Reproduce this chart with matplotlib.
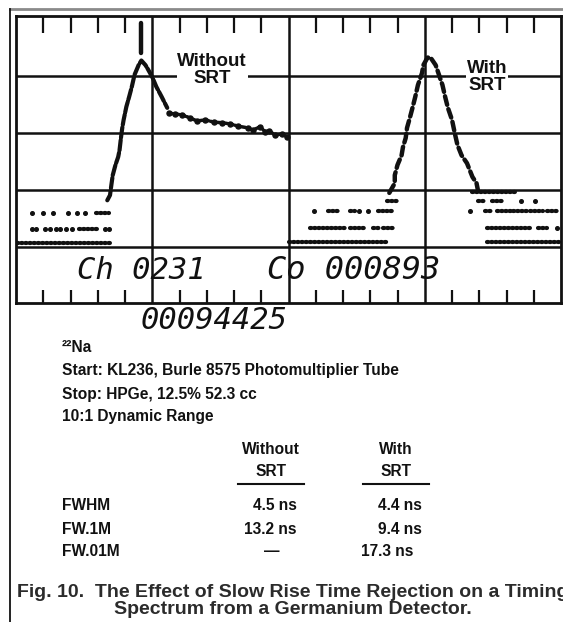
import matplotlib
matplotlib.use('Agg')
import matplotlib.pyplot as plt
from matplotlib.lines import Line2D

W, H = 563, 622

# screen coordinates: x in divisions (0-4), y in divisions above the baseline
# left trace: without slow rise time rejection
left_x = [0.67, 0.69, 0.70, 0.71, 0.73, 0.75, 0.76, 0.77, 0.78, 0.79, 0.81, 0.83,
          0.85, 0.87, 0.90, 0.92, 0.95, 0.97, 1.00, 1.03, 1.07, 1.11]
left_y = [0.82, 0.91, 1.09, 1.26, 1.44, 1.58, 1.70, 1.91, 2.09, 2.23, 2.46, 2.63,
          2.81, 3.02, 3.19, 3.27, 3.19, 3.11, 2.98, 2.81, 2.63, 2.44]
tail_x = [1.12, 1.17, 1.22, 1.28, 1.33, 1.39, 1.45, 1.51, 1.57, 1.63, 1.70, 1.74,
          1.79, 1.83, 1.86, 1.90, 1.95, 1.99]
tail_y = [2.35, 2.33, 2.32, 2.26, 2.21, 2.23, 2.19, 2.18, 2.16, 2.12, 2.09, 2.05,
          2.11, 2.02, 2.04, 1.96, 1.98, 1.93]

# right trace: with slow rise time rejection
right_x = [2.74, 2.78, 2.78, 2.80, 2.83, 2.84, 2.86, 2.87, 2.89, 2.91, 2.93, 2.95,
           2.98, 2.99, 3.02, 3.04, 3.08, 3.10, 3.13, 3.15, 3.17, 3.20, 3.22, 3.24,
           3.27, 3.31, 3.33, 3.35, 3.38, 3.39]
right_y = [0.95, 1.12, 1.26, 1.44, 1.61, 1.75, 1.91, 2.09, 2.26, 2.44, 2.63, 2.84,
           3.05, 3.19, 3.32, 3.33, 3.19, 3.05, 2.84, 2.63, 2.44, 2.23, 2.00, 1.79,
           1.61, 1.47, 1.35, 1.23, 1.12, 1.00]

# low count levels: runs of dense dots (start, end, level) and single dots (x, level)
runs = [(0.01, 0.70, 0.07), (0.46, 0.61, 0.32), (0.59, 0.68, 0.60),
        (2.00, 2.73, 0.09), (3.46, 3.99, 0.09),
        (2.16, 2.43, 0.33), (2.45, 2.56, 0.33), (2.62, 2.67, 0.33), (2.69, 2.77, 0.33),
        (3.46, 3.79, 0.33), (3.83, 3.90, 0.33),
        (2.29, 2.38, 0.63), (2.45, 2.49, 0.63), (2.66, 2.76, 0.63),
        (3.44, 3.50, 0.63), (3.53, 3.63, 0.63), (3.65, 3.75, 0.63), (3.77, 3.87, 0.63),
        (3.90, 3.98, 0.63),
        (2.72, 2.80, 0.81), (3.39, 3.44, 0.81), (3.49, 3.57, 0.81),
        (3.35, 3.66, 0.96)]
dots_x = [0.12, 0.15, 0.21, 0.25, 0.29, 0.32, 0.37, 0.41, 0.65, 0.68,
          0.12, 0.20, 0.27, 0.38, 0.45, 0.51,
          3.97, 2.19, 2.52, 2.58, 3.33, 3.71, 3.81]
dots_y = [0.32] * 10 + [0.60] * 6 + [0.33, 0.63, 0.63, 0.63, 0.63, 0.81, 0.81]

cursor_x = 0.92
cursor_y = (3.40, 3.93)

readouts = ['Ch 0231', 'Co 000893', '00094425']
notes = ['²²Na', 'Start: KL236, Burle 8575 Photomultiplier Tube',
         'Stop: HPGe, 12.5% 52.3 cc', '10:1 Dynamic Range']
row_names = ['FWHM', 'FW.1M', 'FW.01M']
without_srt = ['4.5 ns', '13.2 ns', '—']
with_srt = ['4.4 ns', '9.4 ns', '17.3 ns']
caption = ('Fig. 10.  The Effect of Slow Rise Time Rejection on a Timing\n'
           'Spectrum from a Germanium Detector.')


def fx(x):
    return x / W


def fy(y):
    return 1 - y / H


fig = plt.figure(figsize=(W / 100, H / 100), dpi=100)
ink = '#111111'
sans = ['Liberation Sans', 'DejaVu Sans']

# page frame
fig.add_artist(Line2D([fx(10), 1], [fy(9), fy(9)], color='#8a8a8a', lw=2))
fig.add_artist(Line2D([fx(10), fx(10)], [fy(9), 0], color=ink, lw=1.3))

ax = fig.add_axes([fx(16), fy(303), fx(561) - fx(16), fy(16) - fy(303)])
ax.set_xlim(0, 4)
ax.set_ylim(-0.98, 4.05)
ax.set_xticks([])
ax.set_yticks([])
for s in ax.spines.values():
    s.set_linewidth(2)
    s.set_color(ink)

ax.hlines([0, 1, 2, 3], 0, 4, color=ink, lw=1.8, zorder=1)
ax.vlines([1, 2, 3], -0.98, 4.05, color=ink, lw=1.8, zorder=1)
minor = [k * 0.2 for k in range(1, 20) if k % 5]
ax.vlines(minor, 3.75, 4.05, color=ink, lw=1.6)
ax.vlines(minor, -0.98, -0.75, color=ink, lw=1.6)

# traces
ax.plot(left_x, left_y, color=ink, lw=3, ls=(0, (2.5, 0.6)), dash_capstyle='round', zorder=3)
ax.plot(tail_x, tail_y, color=ink, lw=2.5, ls=(0, (1.2, 0.6)), dash_capstyle='round',
        marker='o', ms=3.6, zorder=3)
ax.plot(right_x, right_y, color=ink, lw=3.2, ls=(0, (2.0, 1.0)), dash_capstyle='round', zorder=3)
for x0, x1, lv in runs:
    ax.plot([x0, x1], [lv, lv], color=ink, lw=3.0, ls=(0, (0.3, 0.7)),
            dash_capstyle='round', zorder=3)
ax.plot(dots_x, dots_y, 'o', color=ink, ms=2.6, zorder=3)
ax.plot([cursor_x, cursor_x], cursor_y, color=ink, lw=3.2, solid_capstyle='round')

lab = dict(ha='center', va='center', fontsize=13.5, fontweight='bold', family=sans,
           color=ink, linespacing=1.0, zorder=4,
           bbox=dict(facecolor='white', edgecolor='none', pad=0.5))
ax.text(1.44, 3.11, 'Without\nSRT', **lab)
ax.text(3.46, 2.98, 'With\nSRT', **lab)

# counter readouts
lcd = dict(family='DejaVu Sans Mono', style='oblique', color=ink, va='center')
ax.text(0.45, -0.41, readouts[0], fontsize=22, **lcd)
ax.text(1.84, -0.41, readouts[1], fontsize=23, **lcd)
fig.text(fx(141), fy(321), readouts[2], fontsize=22, **lcd)

# notes and table
body = dict(fontsize=11.2, fontweight='bold', family=sans, color=ink, va='center')
for i, t in enumerate(notes):
    fig.text(fx(62), fy(348 + 23 * i), t, **body)

for cx, head in [(271, 'Without'), (396, 'With')]:
    fig.text(fx(cx), fy(449), head, ha='center', **body)
    fig.text(fx(cx), fy(472), 'SRT', ha='center', **body)
    fig.add_artist(Line2D([fx(cx - 33), fx(cx + 33)], [fy(484), fy(484)], color=ink, lw=1.5))

for i, name in enumerate(row_names):
    y = fy(506 + 23 * i)
    fig.text(fx(62), y, name, **body)
    if without_srt[i] == '—':
        fig.text(fx(272), y, without_srt[i], ha='center', **body)
    else:
        fig.text(fx(297), y, without_srt[i], ha='right', **body)
    fig.text(fx(422 if i < 2 else 413), y, with_srt[i], ha='right', **body)

# the first caption line touches the right edge, as in the scanned page
fig.text(fx(293), fy(601), caption, ha='center', va='center', fontsize=14,
         fontweight='bold', family=sans, color='#2b2b2b', linespacing=1.05)

fig.savefig('out.png', dpi=100)
